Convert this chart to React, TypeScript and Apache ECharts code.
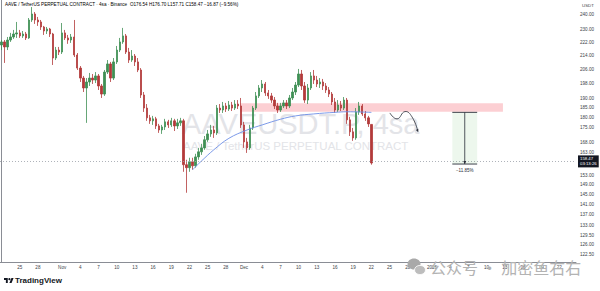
import React, { useEffect, useRef } from 'react';
import * as echarts from 'echarts';

// ---------- data ----------
const startDateUTC = [2025, 9, 22]; // first 12h candle: 2025-10-22 00:00
const categoryCount = 190;

// [open, close, low, high]
const candles: number[][] = [
  [220.5, 222.4, 217.4, 223.6], [222.4, 219.3, 209.7, 223.6], [219.3, 223.6, 217.4, 225.5], [223.6, 225.5, 222.4, 228.1],
  [225.5, 227.4, 224.3, 230.0], [227.4, 228.1, 224.9, 235.2], [228.1, 226.2, 224.9, 230.0], [226.2, 227.4, 224.9, 229.3],
  [227.4, 224.9, 223.6, 228.7], [224.9, 236.5, 224.3, 237.8], [236.5, 240.5, 235.2, 245.2], [240.5, 236.5, 233.9, 241.8],
  [236.5, 235.2, 232.6, 238.5], [235.2, 231.9, 230.0, 236.5], [231.9, 229.3, 226.8, 232.6], [229.3, 230.6, 227.4, 231.9],
  [230.6, 227.4, 225.5, 231.3], [227.4, 212.6, 208.5, 228.1], [212.6, 217.4, 211.4, 219.3], [217.4, 216.2, 214.4, 219.3],
  [216.2, 228.1, 215.0, 234.5], [228.1, 224.9, 223.6, 230.0], [224.9, 223.6, 221.2, 226.8], [223.6, 225.5, 221.8, 227.4],
  [225.5, 214.4, 213.2, 236.5], [214.4, 206.7, 205.6, 215.6], [206.7, 201.0, 198.8, 207.9], [201.0, 195.5, 193.3, 202.2],
  [195.5, 198.8, 177.3, 201.0], [198.8, 201.0, 196.6, 203.9], [201.0, 199.9, 197.7, 203.3], [199.9, 202.2, 198.2, 204.4],
  [202.2, 196.6, 194.4, 203.3], [196.6, 192.2, 190.1, 197.7], [192.2, 204.4, 191.2, 205.6], [204.4, 209.1, 203.3, 211.4],
  [209.1, 201.0, 198.8, 210.3], [201.0, 210.3, 199.9, 212.6], [210.3, 217.4, 209.1, 219.9], [217.4, 222.4, 216.2, 224.9],
  [222.4, 226.2, 221.2, 231.3], [226.2, 216.2, 215.0, 227.4], [216.2, 211.4, 209.7, 218.7], [211.4, 213.8, 210.3, 217.4],
  [213.8, 210.3, 207.9, 215.0], [210.3, 205.6, 204.4, 212.6], [205.6, 191.7, 190.1, 206.7], [191.7, 184.8, 182.8, 193.3],
  [184.8, 179.8, 178.3, 186.9], [179.8, 178.3, 176.8, 181.3], [178.3, 179.3, 176.3, 180.8], [179.3, 175.8, 174.3, 180.3],
  [175.8, 173.8, 172.4, 176.8], [173.8, 175.3, 171.9, 176.3], [175.3, 177.8, 173.8, 179.3], [177.8, 176.3, 174.8, 178.8],
  [176.3, 178.3, 175.3, 179.8], [178.3, 175.8, 173.3, 179.3], [175.8, 177.3, 174.3, 179.3], [177.3, 178.3, 175.8, 179.8],
  [178.3, 157.7, 154.6, 179.3], [157.7, 156.4, 145.8, 159.9], [156.4, 159.0, 154.6, 160.8], [159.0, 157.2, 155.5, 160.8],
  [157.2, 161.2, 156.4, 162.6], [161.2, 163.5, 159.9, 165.3], [163.5, 165.3, 162.1, 167.2], [165.3, 169.1, 164.4, 170.9],
  [169.1, 171.9, 168.1, 173.8], [171.9, 173.8, 170.5, 176.3], [173.8, 172.4, 170.0, 175.8], [172.4, 184.8, 171.4, 186.4],
  [184.8, 183.8, 182.3, 186.9], [183.8, 185.9, 182.3, 188.0], [185.9, 184.3, 182.8, 187.5], [184.3, 186.4, 183.3, 188.5],
  [186.4, 184.8, 183.3, 188.0], [184.8, 186.9, 183.8, 189.0], [186.9, 185.9, 184.3, 189.0], [185.9, 176.3, 174.8, 190.1],
  [176.3, 168.1, 165.3, 177.8], [168.1, 165.3, 163.0, 170.0], [165.3, 174.8, 164.4, 176.3], [174.8, 184.8, 173.8, 185.9],
  [184.8, 191.2, 183.8, 193.3], [191.2, 195.5, 190.1, 197.1], [195.5, 197.7, 193.3, 199.9], [197.7, 192.8, 191.2, 198.8],
  [192.8, 191.2, 189.6, 194.4], [191.2, 189.0, 187.5, 192.8], [189.0, 185.9, 184.3, 190.6], [185.9, 183.8, 182.3, 187.5],
  [183.8, 185.9, 182.8, 187.5], [185.9, 187.5, 184.8, 189.0], [187.5, 185.9, 184.3, 189.0], [185.9, 190.1, 184.8, 191.7],
  [190.1, 193.3, 189.0, 195.5], [193.3, 197.1, 191.7, 198.8], [197.1, 203.3, 196.0, 206.2], [203.3, 196.6, 194.4, 205.6],
  [196.6, 189.0, 187.5, 198.8], [189.0, 195.5, 186.9, 197.7], [195.5, 202.2, 194.4, 204.4], [202.2, 199.9, 197.7, 205.6],
  [199.9, 197.7, 196.0, 202.2], [197.7, 198.8, 195.5, 201.0], [198.8, 196.6, 194.4, 200.5], [196.6, 194.4, 192.8, 198.2],
  [194.4, 192.2, 190.6, 196.0], [192.2, 188.0, 186.4, 193.3], [188.0, 183.8, 182.3, 190.1], [183.8, 186.4, 182.8, 189.0],
  [186.4, 184.8, 183.3, 188.5], [184.8, 189.0, 183.8, 190.6], [189.0, 178.8, 176.8, 190.1], [178.8, 172.9, 170.9, 180.3],
  [172.9, 170.0, 168.6, 174.8], [170.0, 182.8, 169.1, 184.8], [182.8, 185.9, 181.3, 188.0], [185.9, 181.8, 180.8, 186.9],
  [181.8, 179.8, 178.3, 183.3], [179.8, 176.8, 175.3, 180.8], [176.54, 158.47, 157.71, 176.70],
];

// moving average (read at a few candles)
const maIndex = [63, 66, 70, 75, 81, 86, 92, 97, 103, 110, 114, 118, 122];
const maValues = [155.5, 159.4, 164.4, 169.8, 173.8, 176.3, 179.1, 180.8, 181.8, 182.6, 182.9, 182.8, 182.58];

const yTicks = [240, 230, 222, 214, 206, 198, 190, 185, 180, 175, 168, 163, 153, 149, 145, 141, 137, 133, 129.5, 126, 122.5];
const yRange = [120.1, 250.1];

const xTickDates = ['2025-10-25', '2025-10-28', '2025-11-01', '2025-11-04', '2025-11-07', '2025-11-10', '2025-11-13', '2025-11-16',
  '2025-11-19', '2025-11-22', '2025-11-25', '2025-11-28', '2025-12-01', '2025-12-04', '2025-12-07', '2025-12-10', '2025-12-13',
  '2025-12-16', '2025-12-19', '2025-12-22', '2025-12-25', '2025-12-28', '2026-01-01', '2026-01-04', '2026-01-07', '2026-01-10',
  '2026-01-13', '2026-01-16', '2026-01-19', '2026-01-22'];
const xTickLabels = ['25', '28', 'Nov', '4', '7', '10', '13', '16', '19', '22', '25', '28', 'Dec', '4', '7', '10', '13',
  '16', '19', '22', '25', '28', '2026', '4', '7', '10', '13', '16', '19', '22'];

// resistance zone (candle index range, price range)
const zoneX = [78.7, 165.4];
const zoneY = [182.9, 187.3];

// measuring tool
const measureX = [148.7, 156.9];
const measureY = [182.6, 158.0];
const measureLabel = '\u221211.85%';

// hand-drawn path
const curveX = [128.1, 130.5, 133.1, 135.4, 137.4];
const curveY = [182.3, 179.3, 183.0, 180.3, 172.9];

const lastPrice = 158.47;
const lastPriceTimer = '03:13:26';
const maLast = 182.58;

const titleMain = 'AAVE / TetherUS PERPETUAL CONTRACT \u00b7 4sa \u00b7 Binance';
const titleOHLC = [['O', '176.54'], ['H', '176.70'], ['L', '157.71'], ['C', '158.47']];
const titleChange = '\u221216.87 (\u22129.56%)';

const L = (v: number) => Math.log(v);

echarts.graphic.registerShape(
  'tvlogo',
  echarts.graphic.extendPath('M14 22H7V11H0V4h14v18zM28 22h-8l7.5-18h8L28 22zM24 8a4 4 0 1 1-8 0a4 4 0 1 1 8 0z', {})
);

export default function App() {
  const ref = useRef<HTMLDivElement>(null);
  useEffect(() => {
    if (!ref.current) return;
    document.body.style.margin = '0';
    const chart = echarts.init(ref.current, null, { renderer: 'svg' });

    const pad = (n: number) => (n < 10 ? '0' + n : '' + n);
    const categories: string[] = [];
    for (let i = 0; i < categoryCount; i++) {
      const d = new Date(Date.UTC(startDateUTC[0], startDateUTC[1], startDateUTC[2]) + i * 12 * 3600 * 1000);
      categories.push(`${d.getUTCFullYear()}-${pad(d.getUTCMonth() + 1)}-${pad(d.getUTCDate())} ${pad(d.getUTCHours())}`);
    }
    const labelMap: Record<string, string> = {};
    xTickDates.forEach((d, k) => (labelMap[d + ' 00'] = xTickLabels[k]));

    const up = '#3f8f54';
    const down = '#b33a3a';
    const font = 'Liberation Sans, Arial, sans-serif';

    const titleRich: any = {
      m: { color: '#131722', fontSize: 4.6, fontFamily: font },
      k: { color: '#131722', fontSize: 4.6, fontFamily: font },
      v: { color: '#e0303e', fontSize: 4.6, fontFamily: font },
    };
    const titleText =
      `{m|${titleMain}}  ` + titleOHLC.map(([k, v]) => `{k|${k}}{v|${v}}`).join(' ') + ` {v|${titleChange}}`;

    const option: any = {
      animation: false,
      backgroundColor: '#ffffff',
      grid: { left: 0, right: 24, top: 0, bottom: 29, containLabel: false },
      xAxis: [
        {
          type: 'category',
          data: categories,
          boundaryGap: true,
          axisLine: { show: true, lineStyle: { color: '#8a8d95', width: 1 } },
          axisTick: { show: false },
          splitLine: { show: false },
          axisLabel: {
            interval: (_i: number, v: string) => v in labelMap,
            formatter: (v: string) => labelMap[v] || '',
            fontSize: 4.6,
            color: '#3b3f48',
            margin: 3,
            fontFamily: font,
          },
        },
        { type: 'value', min: -0.5, max: categoryCount - 0.5, show: false },
      ],
      yAxis: {
        type: 'value',
        position: 'right',
        min: L(yRange[0]),
        max: L(yRange[1]),
        scale: true,
        axisLine: { show: true, lineStyle: { color: '#8a8d95', width: 1 } },
        axisTick: { show: false },
        splitLine: { show: false },
        axisLabel: {
          customValues: yTicks.map(L),
          formatter: (v: number) => Math.exp(v).toFixed(2),
          fontSize: 4.6,
          color: '#3b3f48',
          margin: 4,
          fontFamily: font,
        },
      },
      series: [
        {
          type: 'custom',
          xAxisIndex: 1,
          z: 1,
          silent: true,
          data: [0],
          renderItem: (_p: any, api: any) => {
            const a = api.coord([zoneX[0], L(zoneY[1])]);
            const b = api.coord([zoneX[1], L(zoneY[0])]);
            return {
              type: 'rect',
              shape: { x: a[0], y: a[1], width: b[0] - a[0], height: b[1] - a[1] },
              style: { fill: 'rgba(242,54,69,0.24)' },
            };
          },
        },
        {
          type: 'candlestick',
          z: 3,
          barWidth: '62%',
          data: candles.map((c) => c.map(L)),
          itemStyle: { color: up, color0: down, borderColor: up, borderColor0: down, borderWidth: 0.8 },
          markLine: {
            silent: true,
            symbol: ['none', 'none'],
            data: [{ yAxis: L(lastPrice) }],
            lineStyle: { color: '#9aa0a8', type: [1, 2], width: 0.8 },
            label: {
              show: true,
              position: 'end',
              distance: 2,
              formatter: `${lastPrice.toFixed(2)}\n${lastPriceTimer}`,
              backgroundColor: '#131722',
              color: '#ffffff',
              fontSize: 4.3,
              lineHeight: 5,
              padding: [1, 2, 1, 2],
              fontFamily: font,
            },
          },
        },
        {
          type: 'line',
          xAxisIndex: 1,
          z: 4,
          smooth: 0.4,
          symbol: 'none',
          data: maIndex.map((x, k) => [x, L(maValues[k])]),
          lineStyle: { color: '#6d8ee6', width: 0.9 },
          markLine: {
            silent: true,
            symbol: ['none', 'none'],
            data: [{ yAxis: L(maLast) }],
            lineStyle: { opacity: 0 },
            label: {
              show: true,
              position: 'end',
              distance: 2,
              formatter: maLast.toFixed(2),
              backgroundColor: '#2962ff',
              color: '#ffffff',
              fontSize: 4.3,
              padding: [1, 2, 1, 2],
              fontFamily: font,
            },
          },
        },
        {
          type: 'custom',
          xAxisIndex: 1,
          z: 5,
          silent: true,
          data: [0],
          renderItem: (_p: any, api: any) => {
            const c = (f: number, p: number) => api.coord([f, L(p)]);
            const tl = c(measureX[0], measureY[0]);
            const br = c(measureX[1], measureY[1]);
            const mx = (tl[0] + br[0]) / 2;
            const pts = curveX.map((f, k) => c(f, curveY[k]));
            const last = pts[pts.length - 1];
            const prev = pts[pts.length - 2];
            const ang = Math.atan2(last[1] - prev[1], last[0] - prev[0]);
            const ah = 3;
            const arrow = [
              last,
              [last[0] - ah * Math.cos(ang - 0.5), last[1] - ah * Math.sin(ang - 0.5)],
              [last[0] - ah * Math.cos(ang + 0.5), last[1] - ah * Math.sin(ang + 0.5)],
            ];
            const ink = '#2a2e39';
            return {
              type: 'group',
              children: [
                { type: 'rect', shape: { x: tl[0], y: tl[1], width: br[0] - tl[0], height: br[1] - tl[1] }, style: { fill: 'rgba(76,175,80,0.10)' } },
                { type: 'line', shape: { x1: tl[0], y1: tl[1], x2: br[0], y2: tl[1] }, style: { stroke: ink, lineWidth: 0.9 } },
                { type: 'line', shape: { x1: tl[0], y1: br[1], x2: br[0], y2: br[1] }, style: { stroke: ink, lineWidth: 0.9 } },
                { type: 'line', shape: { x1: mx, y1: tl[1], x2: mx, y2: br[1] }, style: { stroke: ink, lineWidth: 0.8 } },
                { type: 'polygon', shape: { points: [[mx, br[1]], [mx - 1.5, br[1] - 3], [mx + 1.5, br[1] - 3]] }, style: { fill: ink } },
                { type: 'text', style: { text: measureLabel, x: mx, y: br[1] + 6, align: 'center', verticalAlign: 'middle', fontSize: 4.5, fill: ink, fontFamily: font } },
                { type: 'polyline', shape: { points: pts, smooth: 0.5 }, style: { stroke: ink, fill: 'none', lineWidth: 0.8 } },
                { type: 'polygon', shape: { points: arrow }, style: { fill: ink } },
              ],
            };
          },
        },
      ],
      graphic: [
        { type: 'text', z: 0, left: 182, top: 109, silent: true, style: { text: 'AAVEUSDT.P, 4sa', fontSize: 29, fill: '#e3e4e8', fontFamily: font } },
        { type: 'text', z: 0, left: 183, top: 139.5, silent: true, style: { text: 'AAVE / TetherUS PERPETUAL CONTRACT', fontSize: 11.5, fill: '#e3e4e8', fontFamily: font } },
        { type: 'text', z: 10, left: 5, top: 1.5, silent: true, style: { text: titleText, rich: titleRich, fontSize: 4.6 } },
        { type: 'text', z: 10, left: 582, top: 3.5, silent: true, style: { text: 'USDT', fontSize: 4.4, fill: '#3b3f48', fontFamily: font } },
        { type: 'tvlogo', z: 10, x: 4, y: 277, scaleX: 0.27, scaleY: 0.27, silent: true, style: { fill: '#131722' } },
        { type: 'text', z: 10, left: 15, top: 276.5, silent: true, style: { text: 'TradingView', fontSize: 8, fontWeight: 'bold', fill: '#131722', fontFamily: font } },
        { type: 'ellipse', z: 10, shape: { cx: 414, cy: 264, rx: 6.5, ry: 5.5 }, style: { fill: '#a9a9a9' }, silent: true },
        { type: 'ellipse', z: 11, shape: { cx: 420, cy: 270, rx: 5.5, ry: 4.6 }, style: { fill: '#bdbdbd', stroke: '#ffffff', lineWidth: 0.8 }, silent: true },
        { type: 'text', z: 10, left: 430, top: 259, silent: true, style: { text: '公众号 · 加密鱼右右', fontSize: 16, fill: '#b3b3b3', fontFamily: 'Noto Sans CJK SC' } },
      ],
    };
    chart.setOption(option);
    return () => chart.dispose();
  }, []);
  return <div ref={ref} style={{ width: 600, height: 291, position: 'fixed', left: 0, top: 0 }} />;
}
